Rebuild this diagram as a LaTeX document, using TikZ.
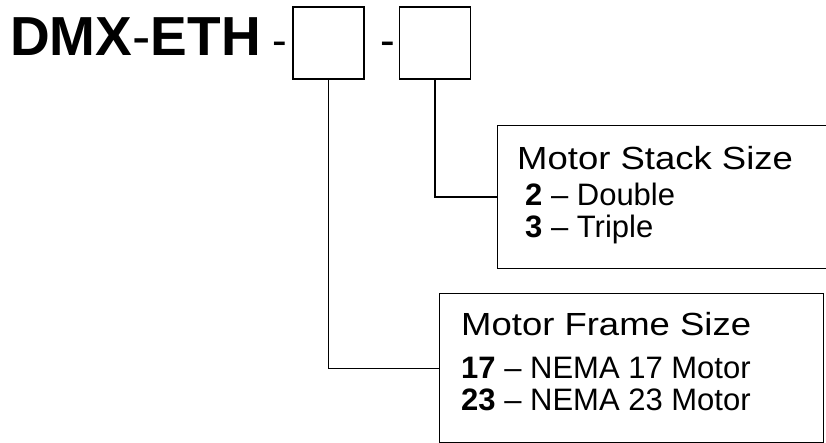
\documentclass[tikz,border=0pt]{standalone}
\usepackage{fontspec}
\setmainfont{Liberation Sans}
\newfontfamily\headfont[FakeStretch=1.14]{Liberation Sans}
\usetikzlibrary{positioning}

\begin{document}
\begin{tikzpicture}[
        x=1pt, y=-1pt,
        slot/.style={draw, line width=1.2pt, minimum width=71pt, minimum height=72pt, inner sep=0pt},
        legend/.style={draw, line width=1.2pt, anchor=north west, inner sep=0pt},
        link/.style={line width=1.2pt},
        bigtext/.style={anchor=base west, inner sep=0pt, font=\fontsize{55}{60}\selectfont},
        hyphen/.style={anchor=base west, inner sep=0pt, font=\fontsize{44}{50}\selectfont},
        headline/.style={anchor=base west, inner sep=0pt, font=\headfont\fontsize{32}{36}\selectfont},
        entry/.style={anchor=base west, inner sep=0pt, font=\fontsize{31}{34}\selectfont},
      ]
      \useasboundingbox (0,0) rectangle (826,443);

      \node[bigtext] (model) at (10,56) {\textbf{DMX}-\textbf{ETH}};
      \node[hyphen] (dashA) at (272,56) {-};
      \node[slot] (frameslot) at (328.5,43) {};
      \node[hyphen] (dashB) at (380,56) {-};
      \node[slot] (stackslot) at (435,43) {};

      % stack size
      \node[legend, minimum width=345pt, minimum height=143pt] (stackbox) at (497,125) {};
      \node[headline] (stackhead) at (517,170) {Motor Stack Size};
      \node[entry] (stacktwo) at (525,206) {\textbf{2} -- Double};
      \node[entry] (stackthree) at (525,238) {\textbf{3} -- Triple};

      % frame size
      \node[legend, minimum width=384pt, minimum height=149pt] (framebox) at (439,293) {};
      \node[headline] (framehead) at (461,335) {Motor Frame Size};
      \node[entry] (frameone) at (461,378) {\textbf{17} -- NEMA 17 Motor};
      \node[entry] (frametwo) at (461,410) {\textbf{23} -- NEMA 23 Motor};

      \draw[link] (frameslot.south) |- (framebox.west);
      \draw[link] (stackslot.south) |- (stackbox.west);
    \end{tikzpicture}
\end{document}
